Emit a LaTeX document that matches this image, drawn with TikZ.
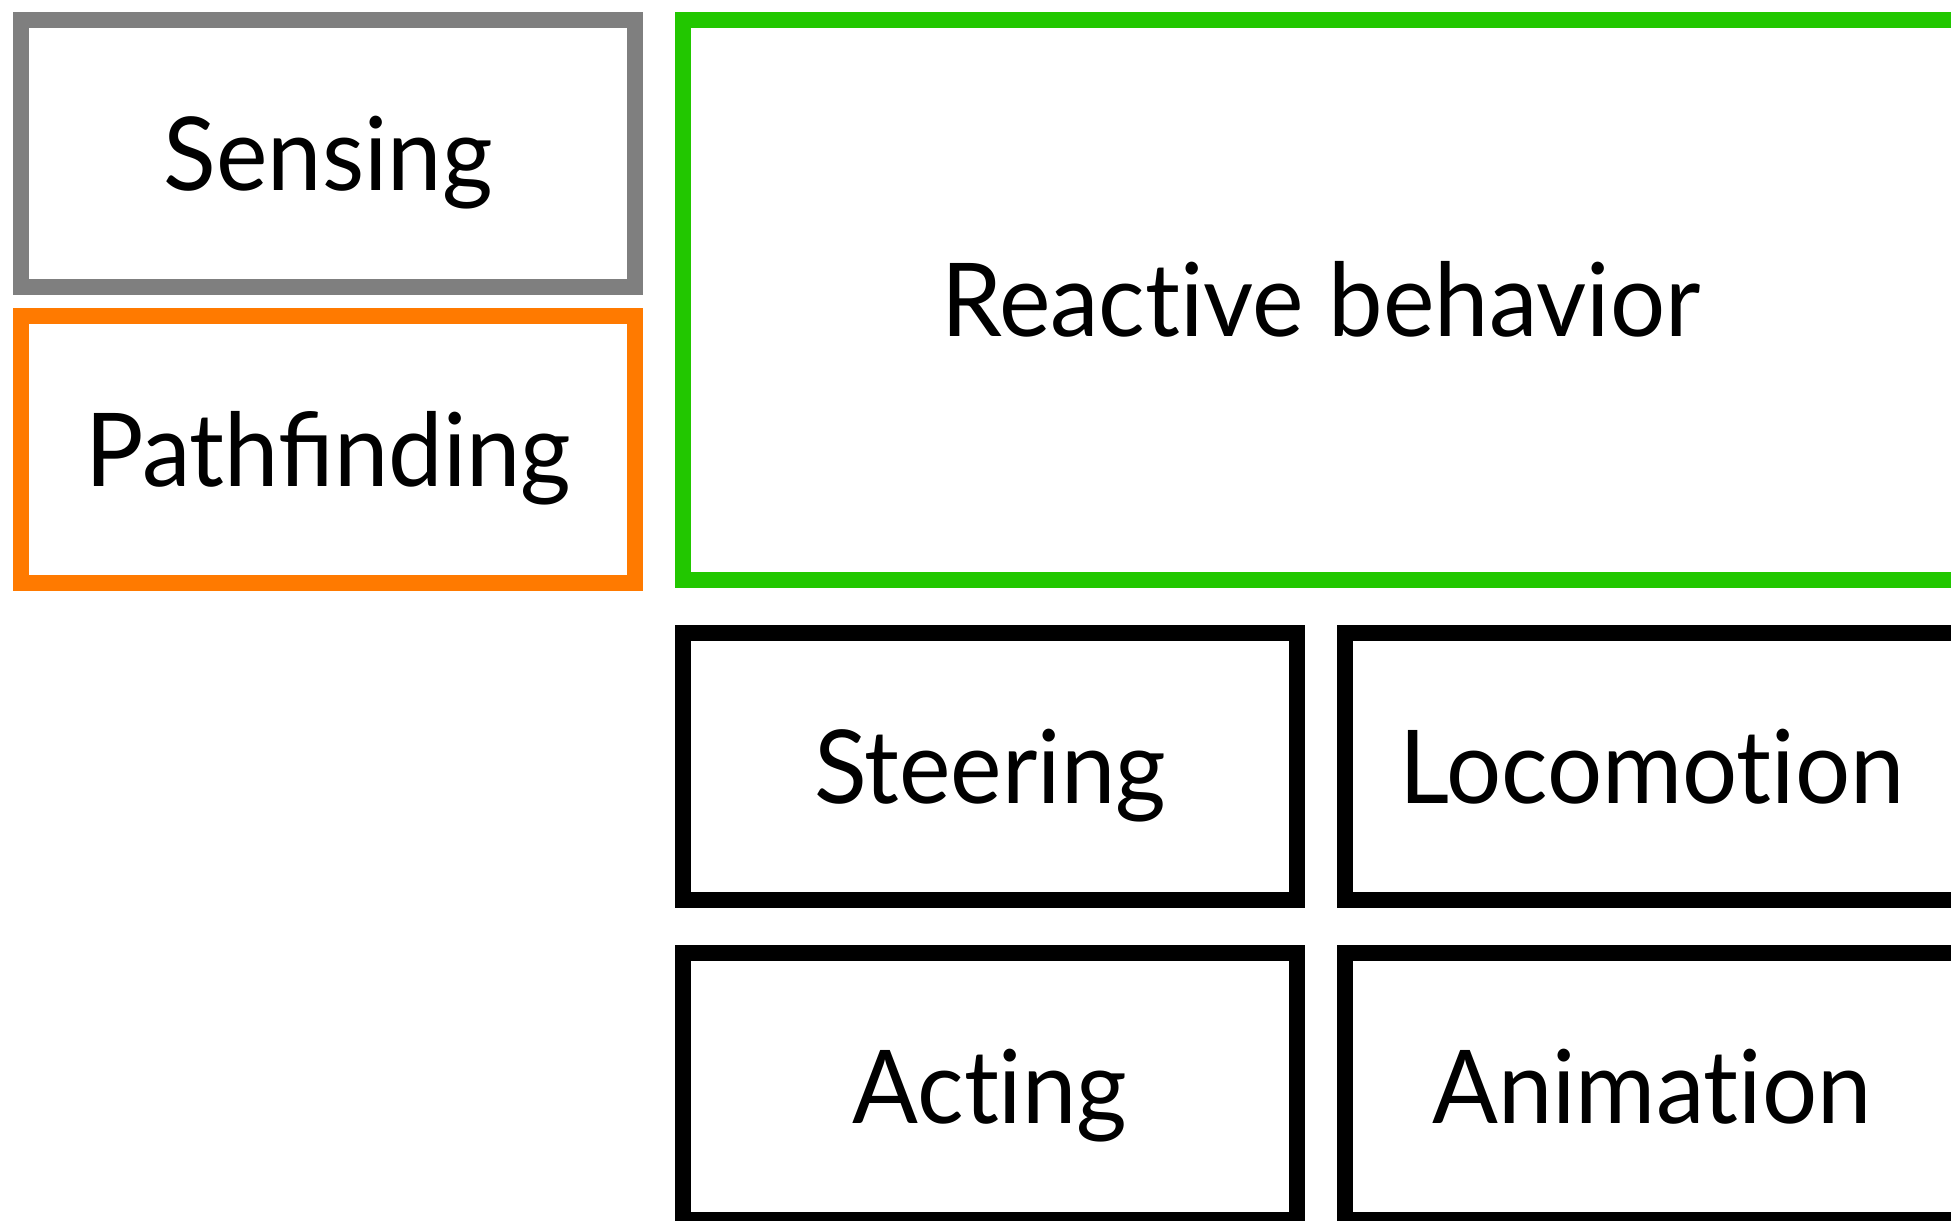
\documentclass[tikz,border=0pt]{standalone}
\usepackage{fontspec}
\setmainfont[FakeStretch=0.955]{Lato}
\definecolor{sensegray}{HTML}{7F7F7F}
\definecolor{pathorange}{HTML}{FF7A00}
\definecolor{reactgreen}{HTML}{22C700}
% break the t-i ligature of the font
\newcommand{\tnoi}{t\kern0pt i}
\begin{document}
\begin{tikzpicture}[x=0.01cm, y=-0.01cm,
  box/.style={draw=black, line width=0.16cm, minimum width=6.14cm,
    minimum height=2.665cm, inner sep=0pt, text height=0.74cm,
    text depth=0pt, font=\fontsize{29}{30}\selectfont}]
  \useasboundingbox (0,0) rectangle (1951,1220);
  \clip (0,0) rectangle (1951,1220);
  % left column
  \node[box, draw=sensegray] (sensing) at (328.2,153.3) {Sensing};
  \node[box, draw=pathorange] (pathfinding) at (328.2,449.5) {Pathfinding};
  % wide reactive layer
  \node[box, draw=reactgreen, minimum width=12.76cm, minimum height=5.596cm]
    (reactive) at (1321,299.8) {Reac\tnoi ve behavior};
  % lower grid
  \node[box] (steering)   at (990,766.8)  {Steering};
  \node[box] (locomotion) at (1652,766.8) {Locomo\tnoi on};
  \node[box] (acting)     at (990,1086.8) {Ac\tnoi ng};
  \node[box] (animation)  at (1652,1086.8) {Anima\tnoi on};
\end{tikzpicture}
\end{document}
